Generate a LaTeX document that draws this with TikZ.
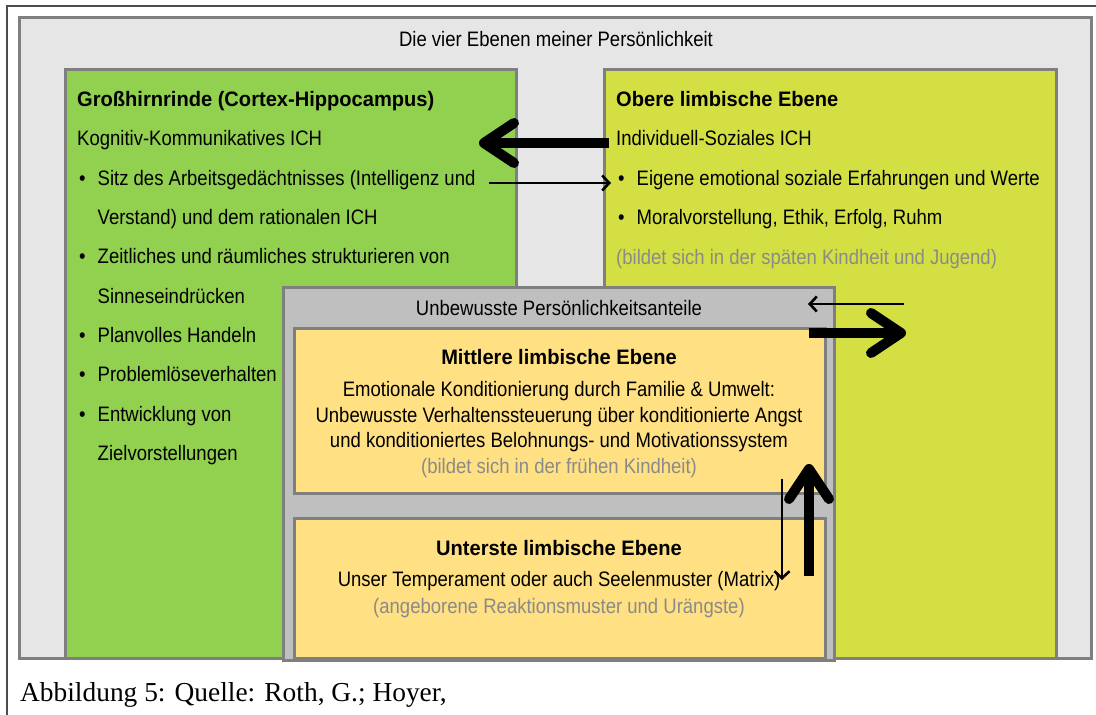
\documentclass[tikz,border=0pt]{standalone}
\usepackage{fontspec}
\setmainfont{Liberation Sans}[FakeStretch=0.885,BoldFeatures={FakeStretch=0.96}]
\newfontfamily\captionfont{Liberation Serif}
\usetikzlibrary{arrows.meta}

\definecolor{framegray}{HTML}{7F7F7F}
\definecolor{levelsbg}{HTML}{E6E6E6}
\definecolor{cortexgreen}{HTML}{92D050}
\definecolor{obereyellow}{HTML}{D4DF44}
\definecolor{unbewusstgray}{HTML}{BFBFBF}
\definecolor{limbicpale}{HTML}{FFE083}
\definecolor{notegray}{HTML}{8A8A8A}

\tikzset{
  levelbox/.style={draw=framegray,line width=3bp},
  txt/.style={inner sep=0pt,font=\fontsize{21}{26}\selectfont},
  note/.style={txt,text=notegray},
  thinarrow/.style={line width=2.6bp,-{Straight Barb[length=7bp,width=15bp]}},
  thickarrow/.style={line width=10bp,line cap=butt,-{Straight Barb[length=30bp,width=40bp,line cap=round,line join=round]}}
}

\begin{document}
\begin{tikzpicture}[x=1bp,y=-1bp]
        \useasboundingbox (0,0) rectangle (1096,715);

        % figure frame
        \draw[line width=1.2bp,black!70] (7,715) -- (7,6) -- (1096,6);

        % the four levels
        \draw[levelbox,fill=levelsbg] (19,18) rectangle (1091,658);
        \draw[levelbox,fill=cortexgreen] (65,70) rectangle (516,658);
        \draw[levelbox,fill=obereyellow] (604,70) rectangle (1056,658);
        \draw[levelbox,fill=unbewusstgray] (283,287) rectangle (834,660);
        \draw[levelbox,fill=limbicpale] (294,328) rectangle (825,493);
        \draw[levelbox,fill=limbicpale] (294,518) rectangle (825,658);

        \node[txt,anchor=base] (title) at (556,47) {Die vier Ebenen meiner Persönlichkeit};

        % Grosshirnrinde
        \node[txt,anchor=base west,font=\fontsize{21}{26}\selectfont\bfseries] (cortex) at (77,107) {Großhirnrinde (Cortex-Hippocampus)};
        \node[txt,anchor=base west] (cortex-ich) at (77,146) {Kognitiv-Kommunikatives ICH};
        \foreach \b/\t [count=\i] in {1/{Sitz des Arbeitsgedächtnisses (Intelligenz und},
                                      0/{Verstand) und dem rationalen ICH},
                                      1/{Zeitliches und räumliches strukturieren von},
                                      0/{Sinneseindrücken},
                                      1/{Planvolles Handeln},
                                      1/{Problemlöseverhalten},
                                      1/{Entwicklung von},
                                      0/{Zielvorstellungen}} {
                \node[txt,anchor=base west] (cortex-\i) at (97.5,146+39.3*\i) {\t};
                \ifnum\b=1
                  \node[txt,anchor=base west] (cortex-dot-\i) at (79,146+39.3*\i) {\textbullet};
                \fi
        }

        % Obere limbische Ebene
        \node[txt,anchor=base west,font=\fontsize{21}{26}\selectfont\bfseries] (obere) at (616,107) {Obere limbische Ebene};
        \node[txt,anchor=base west] (obere-ich) at (616,146) {Individuell-Soziales ICH};
        \foreach \t [count=\i] in {{Eigene emotional soziale Erfahrungen und Werte},
                                   {Moralvorstellung, Ethik, Erfolg, Ruhm}} {
                \node[txt,anchor=base west] (obere-\i) at (636.5,146+39.3*\i) {\t};
                \node[txt,anchor=base west] (obere-dot-\i) at (618,146+39.3*\i) {\textbullet};
        }
        \node[note,anchor=base west] (obere-note) at (616,264) {(bildet sich in der späten Kindheit und Jugend)};

        % Unbewusste Anteile
        \node[txt,anchor=base] (unbewusst) at (559,315) {Unbewusste Persönlichkeitsanteile};

        \node[txt,anchor=base,font=\fontsize{21}{26}\selectfont\bfseries] (mittlere) at (559,364) {Mittlere limbische Ebene};
        \node[txt,anchor=base] (mittlere-1) at (559,396) {Emotionale Konditionierung durch Familie \& Umwelt:};
        \node[txt,anchor=base] (mittlere-2) at (559,422) {Unbewusste Verhaltenssteuerung über konditionierte Angst};
        \node[txt,anchor=base] (mittlere-3) at (559,447) {und konditioniertes Belohnungs- und Motivationssystem};
        \node[note,anchor=base] (mittlere-note) at (559,473) {(bildet sich in der frühen Kindheit)};

        \node[txt,anchor=base,font=\fontsize{21}{26}\selectfont\bfseries] (unterste) at (559,555) {Unterste limbische Ebene};
        \node[txt,anchor=base] (unterste-1) at (559,586) {Unser Temperament oder auch Seelenmuster (Matrix)};
        \node[note,anchor=base] (unterste-note) at (559,613) {(angeborene Reaktionsmuster und Urängste)};

        % arrows between the levels
        \coordinate (obere-out) at (609,143);
        \coordinate (cortex-in) at (479,143);
        \coordinate (cortex-out) at (489,183);
        \coordinate (obere-in) at (611,183);
        \coordinate (obere-back) at (904,304);
        \coordinate (unbewusst-in) at (808,304);
        \coordinate (unbewusst-out) at (809,333);
        \coordinate (obere-up) at (906,333);
        \coordinate (mittlere-down) at (782,479);
        \coordinate (unterste-in) at (782,580);
        \coordinate (unterste-out) at (809,576);
        \coordinate (mittlere-in) at (809,464);

        \draw[thickarrow] (obere-out) -- (cortex-in);
        \draw[thinarrow] (cortex-out) -- (obere-in);
        \draw[thinarrow] (obere-back) -- (unbewusst-in);
        \draw[thickarrow] (unbewusst-out) -- (obere-up);
        \draw[thinarrow] (mittlere-down) -- (unterste-in);
        \draw[thickarrow] (unterste-out) -- (mittlere-in);

        % caption
        \node[inner sep=0pt,anchor=base west,font=\captionfont\fontsize{27.5}{30}\selectfont] (caption) at (20,701) {Abbildung 5: Quelle: Roth, G.; Hoyer,};
\end{tikzpicture}
\end{document}
